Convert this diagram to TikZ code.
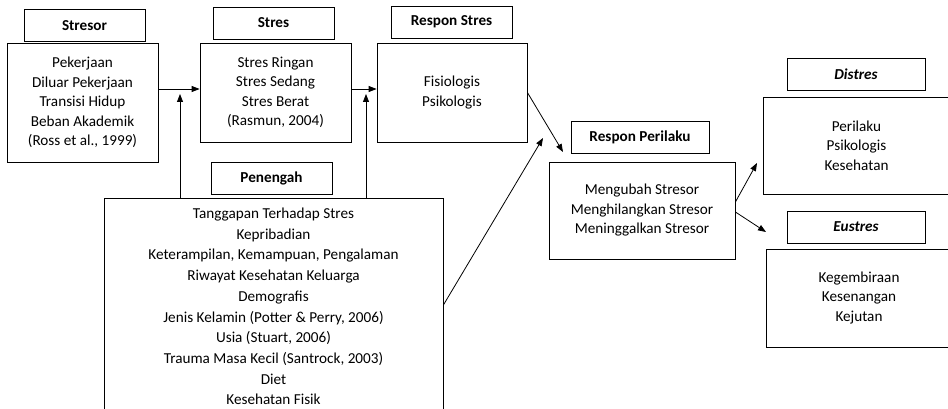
\documentclass[tikz,border=0pt]{standalone}
\usepackage{fontspec}
\setmainfont{Carlito}
\usetikzlibrary{arrows.meta}

\tikzset{
  hdr/.style = {draw, line width=0.8pt, font=\fontsize{15.2}{19.5}\selectfont\bfseries, minimum height=32, inner sep=0},
  box/.style = {draw, line width=0.8pt, align=center, inner sep=0},
  arr/.style = {line width=0.8pt, -{Triangle[length=8pt, width=6pt]}}
}

\begin{document}
\begin{tikzpicture}[x=1pt, y=-1pt, font=\fontsize{15.2}{19.5}\selectfont]
\useasboundingbox (0,0) rectangle (948,409);

\node[hdr, minimum width=121] (stresorh) at (84.5, 25.5) {Stresor};
\node[hdr, minimum width=121] (stresh) at (273.5, 23) {Stres};
\node[hdr, minimum width=121] (responh) at (451.5, 22) {Respon Stres};
\node[hdr, minimum width=121] (penengahh) at (271.5, 178) {Penengah};
\node[hdr, minimum width=138] (perilakuh) at (640, 137.5) {Respon Perilaku};
\node[hdr, minimum width=138] (distresh) at (856, 74) {\itshape Distres};
\node[hdr, minimum width=138] (eustresh) at (856, 227) {\itshape Eustres};

\node[box, minimum width=151, minimum height=119] (stresor) at (82.5, 102.5)
  {Pekerjaan\\Diluar Pekerjaan\\Transisi Hidup\\Beban Akademik\\(Ross et al., 1999)};
\node[box, minimum width=151, minimum height=99] (stres) at (275.5, 92.5)
  {Stres Ringan\\Stres Sedang\\Stres Berat\\(Rasmun, 2004)};
\node[box, minimum width=150, minimum height=99] (respon) at (452, 92.5)
  {Fisiologis\\Psikologis};
\node[box, minimum width=339, minimum height=217, font=\fontsize{15.2}{20.7}\selectfont] (penengah) at (273.5, 306.5)
  {Tanggapan Terhadap Stres\\Kepribadian\\Keterampilan, Kemampuan, Pengalaman\\Riwayat Kesehatan Keluarga\\Demografis\\Jenis Kelamin (Potter \& Perry, 2006)\\Usia (Stuart, 2006)\\Trauma Masa Kecil (Santrock, 2003)\\Diet\\Kesehatan Fisik};
\node[box, minimum width=186, minimum height=97] (perilaku) at (642, 210.5)
  {Mengubah Stresor\\Menghilangkan Stresor\\Meninggalkan Stresor};
\node[box, minimum width=187, minimum height=97] (distres) at (856.5, 145.5)
  {Perilaku\\Psikologis\\Kesehatan};
\node[box, minimum width=186, minimum height=98] (eustres) at (859, 298)
  {Kegembiraan\\Kesenangan\\Kejutan};

\coordinate (up1) at (180, 94);
\coordinate (up2) at (366, 94);
\coordinate (tip1) at (563, 152);
\coordinate (tip2) at (543, 138);
\coordinate (tip3) at (757, 163);
\coordinate (tip4) at (766, 232);

\draw[arr] ([yshift=3.5]stres.west -| stresor.east) -- ([yshift=3.5]stres.west);
\draw[arr] ([yshift=3.5]stres.east) -- ([yshift=3.5]respon.west);
\draw[arr] (penengah.north -| up1) -- (up1);
\draw[arr] (penengah.north -| up2) -- (up2);
\draw[arr] (respon.east) -- (tip1);
\draw[arr] ([yshift=1.5]penengah.east) -- (tip2);
\draw[arr] ([yshift=8.5]perilaku.east) -- (tip3);
\draw[arr] ([yshift=-1.5]perilaku.east) -- (tip4);
\end{tikzpicture}
\end{document}
